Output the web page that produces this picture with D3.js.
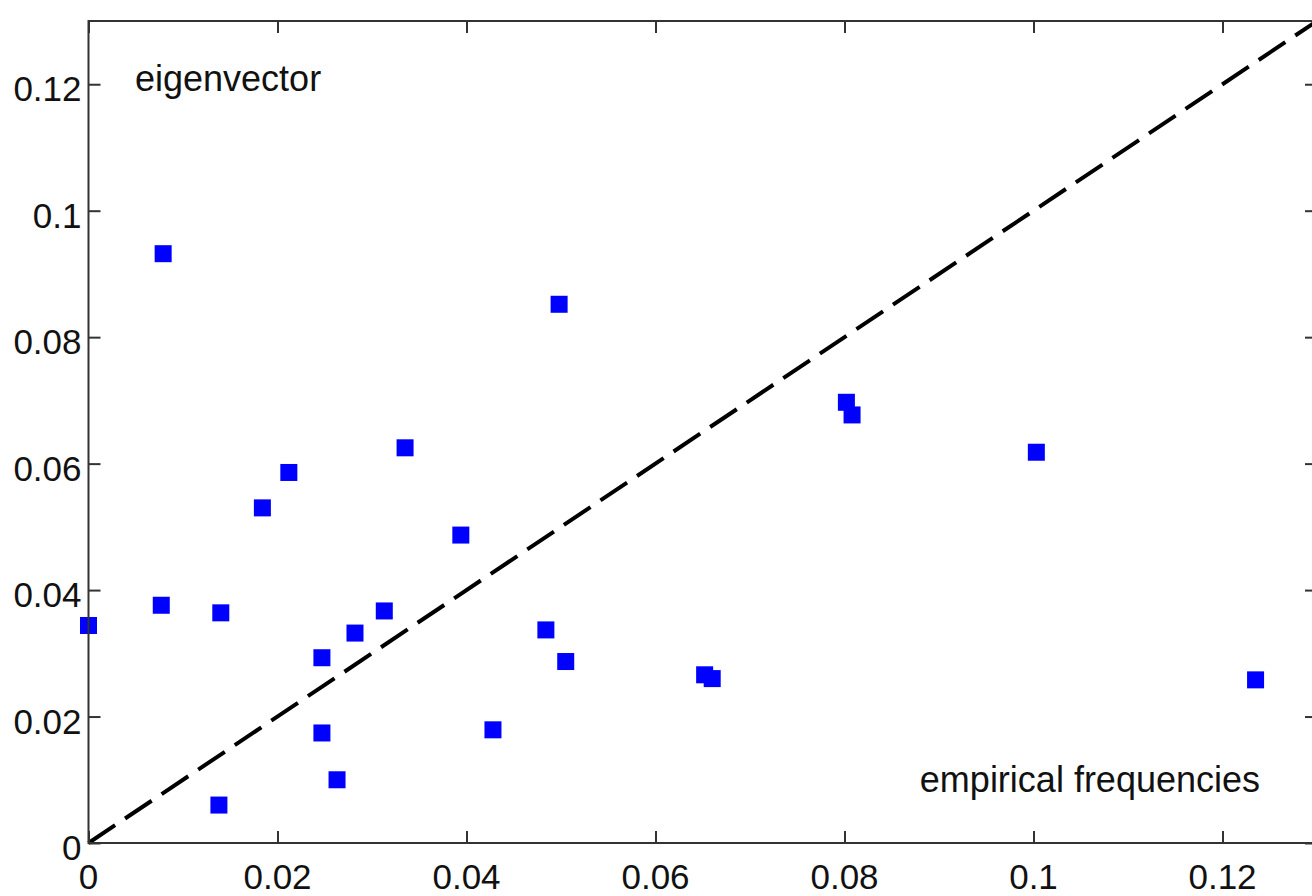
<!DOCTYPE html>
<html>
<head>
<meta charset="utf-8">
<script src="https://cdn.jsdelivr.net/npm/d3@7"></script>
<style>
  html, body { margin: 0; padding: 0; background: #fff; overflow: hidden; }
  svg { display: block; }
  text { font-family: "Liberation Sans", Arial, Helvetica, sans-serif; fill: #111; }
</style>
</head>
<body>
<svg id="chart" width="1312" height="896"></svg>
<script>
// Empirical frequency of each item (x) against its eigenvector component (y)
const empirical = [
  0.0079, 0.0498, 0.0802, 0.0808, 0.1003, 0.0335, 0.0212, 0.0184,
  0.0394, 0.0077, 0.0140, 0.0000, 0.0313, 0.0282, 0.0247, 0.0484,
  0.0505, 0.0652, 0.0660, 0.1235, 0.0247, 0.0428, 0.0263, 0.0138
];
const eigenvector = [
  0.0932, 0.0852, 0.0697, 0.0677, 0.0618, 0.0625, 0.0586, 0.0530,
  0.0487, 0.0376, 0.0364, 0.0344, 0.0367, 0.0332, 0.0293, 0.0337,
  0.0287, 0.0266, 0.0260, 0.0258, 0.0174, 0.0179, 0.0100, 0.0060
];
const xTicks = [0, 0.02, 0.04, 0.06, 0.08, 0.1, 0.12];
const yTicks = [0, 0.02, 0.04, 0.06, 0.08, 0.1, 0.12];
const xDomain = [0, 0.13];
const yDomain = [0, 0.13];
const xLabel = "empirical frequencies";
const yLabel = "eigenvector";

const svg = d3.select("#chart");
const plotLeft = 88.5, plotRight = 1317, plotTop = 21, plotBottom = 843;

const x = d3.scaleLinear().domain(xDomain).range([plotLeft, plotRight]);
const y = d3.scaleLinear().domain(yDomain).range([plotBottom, plotTop]);

const fmt = d => d === 0 ? "0" : String(d);
const tickLen = 12;
const axisColor = "#333";

// Diagonal reference line y = x
svg.append("line")
  .attr("x1", x(0)).attr("y1", y(0))
  .attr("x2", x(xDomain[1])).attr("y2", y(yDomain[1]))
  .attr("stroke", "#000")
  .attr("stroke-width", 4)
  .attr("stroke-dasharray", "32,12");

// Data points as filled squares
const size = 17;
svg.append("g").selectAll("rect")
  .data(d3.range(empirical.length))
  .join("rect")
  .attr("x", i => x(empirical[i]) - size / 2)
  .attr("y", i => y(eigenvector[i]) - size / 2)
  .attr("width", size)
  .attr("height", size)
  .attr("fill", "#0000ff");

// Axes: ticks pointing inward on all four sides
const axes = svg.append("g");

axes.append("g").attr("transform", `translate(0,${plotBottom})`)
  .call(d3.axisBottom(x).tickValues(xTicks).tickSize(-tickLen).tickFormat(""))
  .call(g => g.select(".domain").remove());
axes.append("g").attr("transform", `translate(0,${plotTop})`)
  .call(d3.axisTop(x).tickValues(xTicks).tickSize(-tickLen).tickFormat(""))
  .call(g => g.select(".domain").remove());
axes.append("g").attr("transform", `translate(${plotLeft},0)`)
  .call(d3.axisLeft(y).tickValues(yTicks).tickSize(-tickLen).tickFormat(""))
  .call(g => g.select(".domain").remove());
axes.append("g").attr("transform", `translate(${plotRight},0)`)
  .call(d3.axisRight(y).tickValues(yTicks).tickSize(-tickLen).tickFormat(""))
  .call(g => g.select(".domain").remove());
axes.selectAll(".tick line").attr("stroke", axisColor).attr("stroke-width", 2);

// Box frame
svg.append("rect")
  .attr("x", plotLeft).attr("y", plotTop)
  .attr("width", plotRight - plotLeft).attr("height", plotBottom - plotTop)
  .attr("fill", "none").attr("stroke", axisColor).attr("stroke-width", 2);

// Tick labels
svg.append("g").selectAll("text")
  .data(xTicks).join("text")
  .attr("x", d => x(d))
  .attr("y", plotBottom + 46)
  .attr("text-anchor", "middle")
  .attr("font-size", 35)
  .text(fmt);

svg.append("g").selectAll("text")
  .data(yTicks).join("text")
  .attr("x", plotLeft - 7)
  .attr("y", d => y(d) + 17)
  .attr("text-anchor", "end")
  .attr("font-size", 35)
  .text(fmt);

// In-plot labels
svg.append("text")
  .attr("x", 135).attr("y", 91)
  .attr("font-size", 36)
  .text(yLabel);

svg.append("text")
  .attr("x", 1260).attr("y", 792)
  .attr("text-anchor", "end")
  .attr("font-size", 36)
  .text(xLabel);
</script>
</body>
</html>
